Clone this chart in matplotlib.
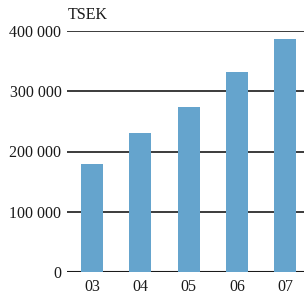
import numpy as np
import matplotlib.pyplot as plt

years = ["03", "04", "05", "06", "07"]
values = [179000, 231000, 274000, 332000, 386000]
yticks = [0, 100000, 200000, 300000, 400000]

plt.rcParams['font.family'] = ['Liberation Serif', 'DejaVu Serif']

fig = plt.figure(figsize=(3.04, 2.95), dpi=100)
ax = fig.add_axes([67/304, 22.7/295, 237/304, 241.6/295])

x = np.arange(len(years))
ax.bar(x, values, width=0.455, color="#65a4cd", zorder=3)

for t in yticks:
    ax.axhline(t, color="#1a1a1a", lw=1.2 if t else 1.5, zorder=2)

ax.set_xlim(-0.518, 4.39)
ax.set_ylim(0, 400000)
ax.set_xticks(x)
ax.set_xticklabels(years)
ax.set_yticks(yticks)
ax.set_yticklabels([f"{t:,}".replace(",", " ") for t in yticks])
ax.tick_params(length=0, labelsize=11.5, colors="#1a1a1a", pad=4)
ax.tick_params(axis='x', pad=5)
for s in ax.spines.values():
    s.set_visible(False)

fig.text(68/304, 1 - 15/295, "TSEK", fontsize=11.5, color="#1a1a1a", va="center", ha="left")

fig.savefig("out.png", dpi=100)
